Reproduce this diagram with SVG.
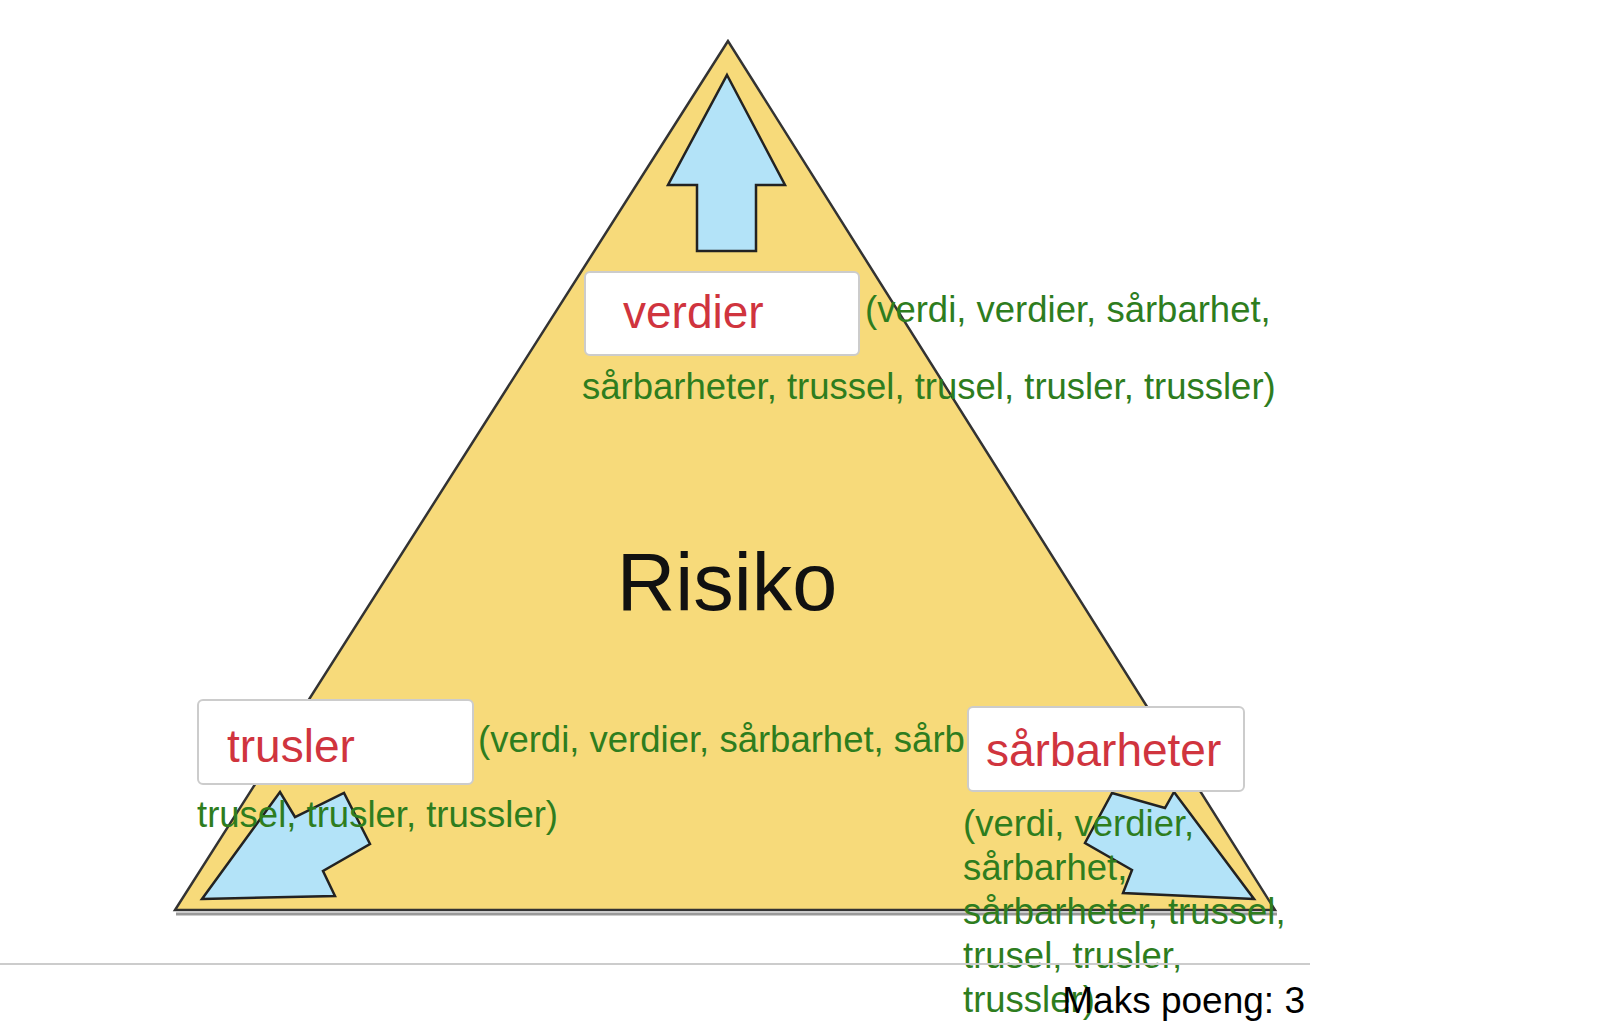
<svg xmlns="http://www.w3.org/2000/svg" width="1619" height="1025" viewBox="0 0 1619 1025">
<style>
.box{fill:#fff;stroke:#ccc;stroke-width:2}
.lbl{font-family:"Liberation Sans",Arial,sans-serif;font-size:46px;fill:#d0343e}
.g{font-family:"Liberation Sans",Arial,sans-serif;font-size:36.5px;fill:#2e7d1e}
.arr{fill:#b3e3f8;stroke:#222;stroke-width:2.5;stroke-linejoin:miter}
</style>
<rect width="1619" height="1025" fill="#fff"/>
<g id="triangle">
<line x1="176" y1="914" x2="1277" y2="914" stroke="#999" stroke-width="3"/>
<polygon points="728,41 175,910 1275,910" fill="#f7da7a" stroke="#333" stroke-width="2.5"/>
<text x="727" y="610" text-anchor="middle" font-family="Liberation Sans,Arial,sans-serif" font-size="81" fill="#111">Risiko</text>
</g>
<g id="arrows">
<polygon class="arr" points="727,75 785,185 756,185 756,251 697,251 697,185 668,185"/>
<polygon class="arr" points="202,899 335,896 323,871 370,844 344,793 295,817 280,792"/>
<polygon class="arr" points="1254,899 1123,893 1132,870 1085,843 1112,793 1165,808 1174,792"/>
</g>
<g id="verdier">
<rect class="box" x="585" y="272" width="274" height="83" rx="5"/>
<text class="lbl" x="623" y="328">verdier</text>
<text class="g" x="865" y="322">(verdi, verdier, sårbarhet,</text>
<text class="g" x="582" y="399">sårbarheter, trussel, trusel, trusler, trussler)</text>
</g>
<g id="trusler">
<text class="g" x="478" y="752">(verdi, verdier, sårbarhet, sårb</text>
<rect class="box" x="198" y="700" width="275" height="84" rx="5"/>
<text class="lbl" x="227" y="762">trusler</text>
<text class="g" x="197" y="827">trusel, trusler, trussler)</text>
</g>
<g id="sarbarheter">
<rect class="box" x="968" y="707" width="276" height="84" rx="5"/>
<text class="lbl" x="986" y="766">sårbarheter</text>
<text class="g" x="963" y="836">(verdi, verdier,</text>
<text class="g" x="963" y="880">sårbarhet,</text>
<text class="g" x="963" y="924">sårbarheter, trussel,</text>
<text class="g" x="963" y="968">trusel, trusler,</text>
<text class="g" x="963" y="1012">trussler)</text>
</g>
<line x1="0" y1="964" x2="1310" y2="964" stroke="#ccc" stroke-width="2"/>
<text x="1305" y="1013" text-anchor="end" font-family="Liberation Sans,Arial,sans-serif" font-size="37" fill="#000">Maks poeng: 3</text>
</svg>
